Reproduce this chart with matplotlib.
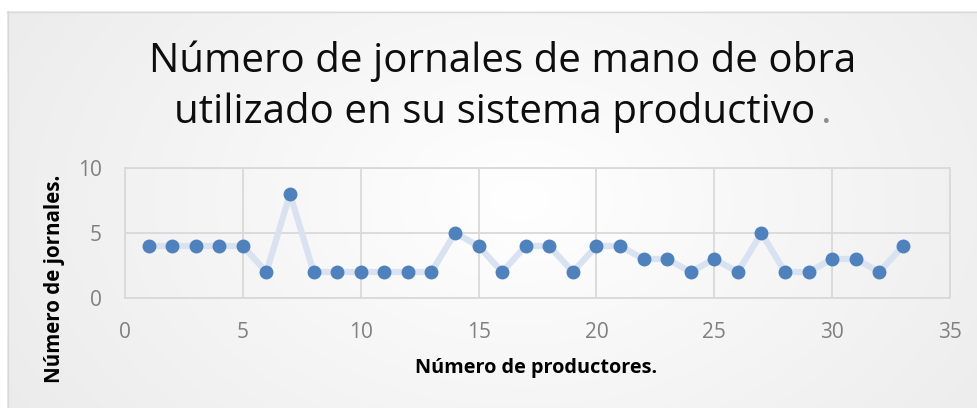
import matplotlib.pyplot as plt
import numpy as np
from matplotlib.patches import Rectangle

# Data
productores = list(range(1, 34))
jornales = [4, 4, 4, 4, 4, 2, 8, 2, 2, 2, 2, 2, 2, 5, 4, 2, 4, 4, 2, 4,
            4, 3, 3, 2, 3, 2, 5, 2, 2, 3, 3, 2, 4]
x_ticks = [0, 5, 10, 15, 20, 25, 30, 35]
y_ticks = [0, 5, 10]

TITLE_1 = "Número de jornales de mano de obra"
TITLE_2 = "utilizado en su sistema productivo"
X_LABEL = "Número de productores."
Y_LABEL = "Número de jornales."

W, H = 977, 408
fig = plt.figure(figsize=(W / 100, H / 100), dpi=100)
fig.patch.set_facecolor("white")

# Radial gradient background of the chart area
bg = fig.add_axes([0, 0, 1, 1])
yy, xx = np.mgrid[0:H, 0:W]
r = np.sqrt(((xx - 520) / 620) ** 2 + ((yy - 200) / 420) ** 2)
shade = 1.0 - 0.08 * np.clip(r, 0, 1.2)
img = np.dstack([shade, shade, shade])
bg.imshow(img, extent=[0, W, H, 0], aspect="auto", interpolation="bilinear")
bg.add_patch(Rectangle((0, 0), W, 11, facecolor="white", edgecolor="none"))
bg.add_patch(Rectangle((0, 0), 7, H, facecolor="white", edgecolor="none"))
bg.plot([7, W], [11.5, 11.5], color="#d9d9d9", lw=1)
bg.plot([7.5, 7.5], [11, H], color="#d9d9d9", lw=1)
bg.set_xlim(0, W)
bg.set_ylim(H, 0)
bg.axis("off")


def px(x, y):
    return x / W, 1 - y / H


# Titles (baseline positions in pixels)
fig.text(*px(503, 72), TITLE_1, ha="center", va="baseline", fontsize=29,
         family="Open Sans", color="#0d0d0d")
t2 = fig.text(*px(495, 123), TITLE_2, ha="center", va="baseline", fontsize=29,
              family="Open Sans", color="#0d0d0d")
fig.canvas.draw()
ext = t2.get_window_extent()
fig.text(*px(ext.x1 + 5, 123), ".", ha="left", va="baseline", fontsize=29,
         family="Open Sans", color="#8c8c8c")

ax = fig.add_axes([125 / W, 1 - 298 / H, (950 - 125) / W, (298 - 168) / H])
ax.set_facecolor("none")
ax.plot(productores, jornales, color="#d9e2f1", lw=4.5, zorder=2,
        solid_capstyle="round", solid_joinstyle="round")
ax.plot(productores, jornales, linestyle="none", marker="o", markersize=9,
        color="#4f81bd", zorder=3)

ax.set_xlim(0, 35)
ax.set_ylim(0, 10)
ax.set_xticks(x_ticks)
ax.set_yticks(y_ticks)
ax.grid(True, color="#d9d9d9", lw=1.3)
ax.set_axisbelow(True)
for s in ax.spines.values():
    s.set_color("#d9d9d9")
    s.set_linewidth(1.3)
ax.tick_params(length=0, labelsize=15, labelcolor="#808080")
ax.tick_params(axis="x", pad=17)
ax.tick_params(axis="y", pad=16.5)
for lab in ax.get_xticklabels() + ax.get_yticklabels():
    lab.set_family("Open Sans")

ax.set_xlabel(X_LABEL, fontsize=14.3, fontweight="bold", family="Open Sans")
ax.set_ylabel(Y_LABEL, fontsize=14.8, fontweight="bold", family="Open Sans")
ax.xaxis.label.set_va("baseline")
ax.xaxis.set_label_coords((536 - 125) / (950 - 125), -(373 - 298) / (298 - 168))
ax.yaxis.set_label_coords(-(125 - 65) / (950 - 125), (298 - 279) / (298 - 168))

fig.savefig("out.png", dpi=100)
